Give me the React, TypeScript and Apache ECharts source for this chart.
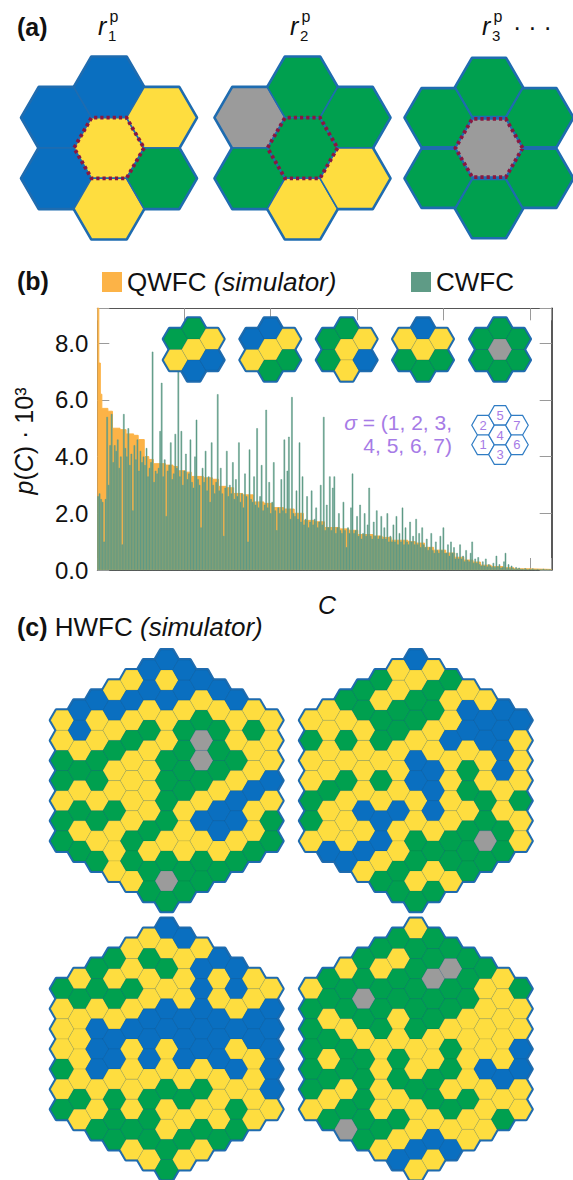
import React, { useEffect, useRef } from 'react';
import * as echarts from 'echarts';

const FONT = '"Liberation Sans", Arial, Helvetica, sans-serif';
const SQ3 = Math.sqrt(3);
const ORANGE = '#fcb347';
const GREEN_BAR = '#5f9b86';
const PURPLE = '#a67be6';
const OUTLINE = '#1f6cb0';

// cell colour codes: Y yellow, G green, B blue, X grey, W white
const CODES = ['Y', 'G', 'B', 'X', 'W'];
const CELL_COLORS = ['#fedd3f', '#00a04f', '#0a6fc0', '#9b9b9b', '#ffffff'];

// ---------- (a) patterns r1^p, r2^p, r3^p (columns left->right, cells top->bottom)
const PATTERN_R1 = ['BB', 'BYY', 'YG'];
const PATTERN_R2 = ['XG', 'GGY', 'GY'];
const PATTERN_R3 = ['GG', 'GXG', 'GG'];
const PATTERN_SUBS = ['1', '2', '3'];

// ---------- (b) data
// QWFC (simulator): sorted probability, step points [rank index, p*1e3]
const QWFC_STEPS: [number, number][] = [
  [0, 9.25], [1, 7.3], [2, 6.2], [3, 5.7], [7, 5.6], [10, 5.0], [15, 4.95], [19, 4.8], [24, 4.75],
  [27, 4.6], [31, 4.0], [34, 3.9], [37, 3.75], [45, 3.7], [50, 3.65], [53, 3.5], [58, 3.45], [62, 3.3],
  [70, 3.25], [76, 3.2], [80, 2.95], [85, 2.9], [90, 2.7], [96, 2.65], [103, 2.4], [110, 2.35],
  [116, 2.2], [123, 2.15], [130, 2.0], [136, 1.75], [143, 1.7], [150, 1.5], [160, 1.45], [166, 1.4],
  [172, 1.25], [182, 1.2], [188, 1.15], [194, 1.05], [205, 1.0], [210, 0.95], [216, 0.8], [222, 0.7],
  [230, 0.6], [236, 0.45], [242, 0.35], [248, 0.28], [253, 0.17], [260, 0.12], [268, 0.08],
  [275, 0.04], [285, 0.02], [300, 0.01],
];
// CWFC: p*1e3 for the same ranked configurations
const CWFC_VALUES: number[] = [
  2.6, 2.7, 2.5, 2.4, 1.0, 2.5, 5.4, 3.0, 4.4, 5.5,
  3.8, 4.4, 4.2, 4.6, 3.6, 4.0, 0.9, 5.5, 4.3, 4.0,
  5.0, 3.7, 4.1, 2.1, 4.4, 3.9, 4.6, 3.5, 4.2, 3.8,
  4.0, 3.7, 4.3, 3.3, 3.6, 3.8, 7.7, 3.1, 3.5, 3.4,
  3.6, 4.9, 6.6, 3.3, 3.9, 1.9, 3.5, 3.7, 4.5, 3.2,
  3.4, 4.8, 3.6, 8.4, 3.3, 4.9, 3.0, 3.5, 4.1, 3.2,
  3.4, 4.6, 3.1, 2.9, 4.0, 5.3, 3.2, 3.0, 1.5, 3.6,
  3.1, 4.2, 2.8, 3.3, 2.4, 4.5, 3.0, 2.7, 3.1, 6.2,
  2.8, 3.6, 2.7, 1.2, 2.9, 4.2, 2.6, 3.0, 2.7, 3.8,
  2.5, 3.2, 2.6, 4.5, 2.4, 2.7, 2.2, 3.4, 2.6, 1.0,
  4.25, 2.5, 2.4, 3.3, 2.3, 5.0, 2.2, 2.6, 3.7, 2.1,
  2.3, 5.65, 2.2, 3.1, 2.0, 2.4, 3.8, 2.1, 1.4, 2.2,
  2.0, 3.2, 2.1, 4.6, 2.0, 3.5, 4.7, 1.8, 6.1, 2.0,
  1.9, 2.8, 1.8, 4.5, 1.7, 3.3, 1.6, 1.8, 2.6, 1.5,
  1.7, 2.8, 1.6, 1.8, 2.2, 1.5, 1.7, 3.0, 1.6, 5.4,
  1.4, 2.3, 1.5, 3.3, 1.4, 2.9, 3.3, 1.3, 1.5, 2.0,
  1.4, 1.3, 2.4, 1.4, 0.8, 1.5, 1.3, 2.2, 3.4, 1.3,
  1.4, 1.9, 1.2, 2.3, 1.1, 1.3, 2.0, 1.2, 1.6, 2.9,
  1.2, 1.1, 1.7, 1.2, 2.1, 1.1, 1.2, 1.9, 1.1, 1.5,
  1.1, 2.0, 1.0, 1.2, 1.0, 1.6, 1.0, 1.9, 0.9, 1.3,
  1.0, 2.2, 0.9, 1.5, 1.0, 0.9, 1.7, 1.0, 1.2, 0.9,
  1.8, 0.9, 1.3, 0.8, 1.5, 0.9, 0.8, 1.1, 0.7, 0.8,
  1.3, 0.7, 0.6, 1.0, 0.7, 0.6, 1.2, 0.7, 1.5, 0.6,
  0.6, 0.9, 0.5, 1.0, 0.6, 0.8, 0.4, 0.6, 0.4, 0.9,
  0.4, 0.5, 0.3, 0.7, 0.35, 0.3, 0.6, 1.0, 0.25, 0.4,
  0.25, 0.45, 0.2, 0.15, 0.3, 0.15, 0.4, 0.12, 0.2, 0.15,
  0.1, 0.25, 0.1, 0.5, 0.12, 0.2, 0.08, 0.1, 0.3, 0.6,
  0.06, 0.2, 0.05, 0.15, 0.06, 0.03, 0.1, 0.04, 0.08, 0.03,
  0.04, 0.02, 0.06, 0.03, 0.02, 0.04, 0.02, 0.05, 0.02, 0.01,
  0.03, 0.02, 0.01, 0.02, 0.04, 0.01, 0.02, 0.01, 0.01, 0.02,
];
const Y_MAX = 9.23;
const Y_TICK_STEP = 2;
const X_TICK_MAX = 5.247; // top/bottom tick marks, 1 unit apart
const SERIES_NAMES = ['QWFC', 'CWFC'];

// inset patterns in (b)
const INSET_1 = ['GY', 'GYB', 'YB'];
const INSET_2 = ['BY', 'BYG', 'YG'];
const INSET_3 = ['GG', 'GYY', 'YB'];
const INSET_4 = ['YG', 'BYG', 'YG'];
const INSET_5 = ['GG', 'GXG', 'GG'];
const SIGMA_CELLS = ['WW', 'WWW', 'WW'];
const SIGMA_LABELS = [[2, 1], [5, 4, 3], [7, 6]];

// ---------- (c) HWFC (simulator) samples, 13 columns left->right, cells top->bottom
const HWFC_1 = [
  'YYGGYGG', 'BBYGYGYG', 'BYYGGYGYG', 'YBYGYYGYYY', 'YBYGYYYYGGY', 'BBYGYYYYGYGG',
  'BYBYYGGGGYGXG',
  'BBYGGGGYYYGG', 'BYGXXGYBYGG', 'BYGGGYBBYG', 'BYYGYBBYG', 'YGYYBYYG', 'YYYBYGG',
];
const HWFC_2 = [
  'YGYYGGY', 'YYYYGYYB', 'GYGYGYYYB', 'GGYYYYBYBY', 'GYGGYGYBBYG', 'YYGGYYYBYYGG',
  'BYGGYBBYYGGYG',
  'YGGYYBBBYGYG', 'GYYBYYYYGGY', 'YBBYGGYGGG', 'YBBYYGGXG', 'BBBBYYGG', 'BYYYGYY',
];
const HWFC_3 = [
  'GYYYGYG', 'YGYYYYGY', 'GGYBBBYYG', 'GYGYBBYGGG', 'YYGYBYYYYGY', 'YGYYBBBYGGGY',
  'BYGYBBYYGYYGG',
  'BYYYBBBYGYGY', 'YBBBBBYGYGY', 'BYYBBBYYYG', 'BBYBYBYGG', 'YYBBYYYY', 'YBBBBBY',
];
const HWFC_4 = [
  'YGGGGGY', 'GGYGYGYG', 'YGGYGGYGX', 'GGXGYGGGGG', 'GYGGGYYYYGY', 'GYGGYYGGYGYB',
  'YGGGGGYYGYYBY',
  'GGXGGYYGGYBY', 'GXGGYGGYGYB', 'GGGYYYYGYY', 'GYYYYBYYY', 'YYYYYBYG', 'GYYBBYY',
];

type Kind = 'a' | 'b' | 'c' | 'num';
const STYLES: Record<Kind, any> = {
  a: { outlineWidth: 3.6, innerColor: OUTLINE, innerWidth: 1.6, dotted: true },
  b: { outlineWidth: 4, innerColor: 'rgba(30,60,90,0.22)', innerWidth: 0.6 },
  c: { outlineWidth: 4, innerColor: 'rgba(30,60,90,0.16)', innerWidth: 0.6 },
  num: { outlineWidth: 0, innerColor: '#2f7cc4', innerWidth: 1.2, labels: true, labelSize: 13 },
};

const HEX_GROUPS: { cols: string[]; labels?: number[][]; cx: number; cy: number; R: number; kind: Kind }[] = [
  { cols: PATTERN_R1, cx: 109, cy: 148, R: 35, kind: 'a' },
  { cols: PATTERN_R2, cx: 302.5, cy: 148, R: 35, kind: 'a' },
  { cols: PATTERN_R3, cx: 492.5, cy: 148, R: 35, kind: 'a' },
  { cols: INSET_1, cx: 193.7, cy: 349.5, R: 12, kind: 'b' },
  { cols: INSET_2, cx: 270.3, cy: 349.5, R: 12, kind: 'b' },
  { cols: INSET_3, cx: 346.7, cy: 349.5, R: 12, kind: 'b' },
  { cols: INSET_4, cx: 423, cy: 349.5, R: 12, kind: 'b' },
  { cols: INSET_5, cx: 500, cy: 349.5, R: 12, kind: 'b' },
  { cols: SIGMA_CELLS, labels: SIGMA_LABELS, cx: 500, cy: 435, R: 11.3, kind: 'num' },
  { cols: HWFC_1, cx: 166.7, cy: 780.6, R: 11.6, kind: 'c' },
  { cols: HWFC_2, cx: 415.8, cy: 780.6, R: 11.6, kind: 'c' },
  { cols: HWFC_3, cx: 166.7, cy: 1049, R: 11.6, kind: 'c' },
  { cols: HWFC_4, cx: 415.8, cy: 1049, R: 11.6, kind: 'c' },
];

function hexData(cols: string[], labels?: number[][]) {
  const n = (cols.length - 1) / 2;
  const out: number[][] = [];
  cols.forEach((s, ci) => {
    const c = ci - n;
    for (let i = 0; i < s.length; i++) {
      const row = [1.5 * c, (-n + Math.abs(c) / 2 + i) * SQ3, CODES.indexOf(s[i])];
      if (labels) row.push(labels[ci][i]);
      out.push(row);
    }
  });
  return out;
}

function hexRenderer(mode: 'outline' | 'fill' | 'dotted', st: any) {
  return (_params: any, api: any) => {
    const p = api.coord([api.value(0), api.value(1)]);
    const r = api.size([1, 1])[0];
    const pts: number[][] = [];
    for (let k = 0; k < 6; k++) {
      const a = (Math.PI / 3) * k;
      pts.push([p[0] + r * Math.cos(a), p[1] + r * Math.sin(a)]);
    }
    if (mode === 'outline') {
      return { type: 'polygon', shape: { points: pts }, style: { fill: OUTLINE, stroke: OUTLINE, lineWidth: st.outlineWidth, lineJoin: 'round' } };
    }
    if (mode === 'dotted') {
      return { type: 'polygon', shape: { points: pts }, style: { fill: 'none', stroke: '#8a1740', lineWidth: 3.8, lineDash: [3.2, 3] } };
    }
    const code = api.value(2);
    const poly = { type: 'polygon', shape: { points: pts }, style: { fill: CELL_COLORS[code], stroke: st.innerColor, lineWidth: st.innerWidth } };
    if (st.labels) {
      return {
        type: 'group',
        children: [
          poly,
          { type: 'text', x: p[0], y: p[1], style: { text: String(api.value(3)), fill: PURPLE, fontSize: st.labelSize, fontFamily: FONT, align: 'center', verticalAlign: 'middle' } },
        ],
      };
    }
    return poly;
  };
}

function txt(x: number, y: number, text: string, style: any = {}, extra: any = {}) {
  return { type: 'text', x, y, silent: true, ...extra, style: { text, fontFamily: FONT, fill: '#111', fontSize: 25, verticalAlign: 'middle', ...style } };
}

function buildOption() {
  const grid: any[] = [{ left: 97.3, top: 308.3, width: 454.4, height: 261.7 }];
  const tickStyle = { show: true, inside: true, length: 12, lineStyle: { color: '#9a9a9a', width: 1 } };
  const xAxis: any[] = [
    { gridIndex: 0, type: 'value', min: 0, max: CWFC_VALUES.length, show: false },
    { gridIndex: 0, type: 'category', data: CWFC_VALUES.map((_, i) => String(i)), show: false },
    { gridIndex: 0, type: 'value', min: 0, max: X_TICK_MAX, interval: 1, position: 'bottom',
      axisLine: { show: true, onZero: false, lineStyle: { color: '#555', width: 1 } }, axisTick: tickStyle,
      axisLabel: { show: false }, splitLine: { show: false } },
    { gridIndex: 0, type: 'value', min: 0, max: X_TICK_MAX, interval: 1, position: 'top',
      axisLine: { show: true, onZero: false, lineStyle: { color: '#555', width: 1 } }, axisTick: tickStyle,
      axisLabel: { show: false }, splitLine: { show: false } },
  ];
  const yAxis: any[] = [
    { gridIndex: 0, type: 'value', min: 0, max: Y_MAX, interval: Y_TICK_STEP, position: 'left',
      axisLine: { show: true, onZero: false, lineStyle: { color: '#666', width: 1 } }, axisTick: tickStyle,
      axisLabel: { fontSize: 24, fontFamily: FONT, color: '#111', margin: 9,
        formatter: (v: number) => (Math.abs(v / Y_TICK_STEP - Math.round(v / Y_TICK_STEP)) < 1e-9 ? v.toFixed(1) : '') },
      splitLine: { show: false } },
    { gridIndex: 0, type: 'value', min: 0, max: Y_MAX, interval: Y_TICK_STEP, position: 'right',
      axisLine: { show: true, onZero: false, lineStyle: { color: '#222', width: 1.5 } }, axisTick: tickStyle,
      axisLabel: { show: false }, splitLine: { show: false } },
  ];
  const series: any[] = [
    { type: 'line', name: SERIES_NAMES[0], xAxisIndex: 0, yAxisIndex: 0, data: QWFC_STEPS, step: 'end',
      showSymbol: false, symbol: 'none', color: ORANGE, itemStyle: { color: ORANGE },
      lineStyle: { color: ORANGE, width: 1 }, areaStyle: { color: ORANGE, opacity: 1 }, z: 2, silent: true },
    { type: 'bar', name: SERIES_NAMES[1], xAxisIndex: 1, yAxisIndex: 0, data: CWFC_VALUES,
      barCategoryGap: '0%', barGap: '0%', color: GREEN_BAR,
      itemStyle: { color: GREEN_BAR, borderColor: GREEN_BAR, borderWidth: 0.5 }, z: 3, silent: true },
  ];

  HEX_GROUPS.forEach((g) => {
    const n = (g.cols.length - 1) / 2;
    const hx = 1.5 * n + 1;
    const hy = (n + 0.5) * SQ3;
    const gi = grid.length;
    grid.push({ left: g.cx - hx * g.R, top: g.cy - hy * g.R, width: 2 * hx * g.R, height: 2 * hy * g.R });
    const xi = xAxis.length;
    xAxis.push({ gridIndex: gi, type: 'value', min: -hx, max: hx, show: false });
    const yi = yAxis.length;
    yAxis.push({ gridIndex: gi, type: 'value', min: -hy, max: hy, inverse: true, show: false });
    const data = hexData(g.cols, g.labels);
    const st = STYLES[g.kind];
    const base = { type: 'custom', coordinateSystem: 'cartesian2d', xAxisIndex: xi, yAxisIndex: yi, encode: { x: 0, y: 1 }, silent: true, clip: false };
    if (st.outlineWidth) series.push({ ...base, data, renderItem: hexRenderer('outline', st), z: 5 });
    series.push({ ...base, data, renderItem: hexRenderer('fill', st), z: 6 });
    if (st.dotted) {
      series.push({ ...base, data: data.filter((d) => d[0] === 0 && Math.abs(d[1]) < 1e-6), renderItem: hexRenderer('dotted', st), z: 7 });
    }
  });

  const legendText = { fontSize: 26, fontFamily: FONT, color: '#111', rich: { i: { fontSize: 26, fontFamily: FONT, fontStyle: 'italic', color: '#111' } } };
  const legend = [
    { data: [SERIES_NAMES[0]], left: 97, top: 264, icon: 'rect', itemWidth: 20, itemHeight: 20, selectedMode: false,
      itemStyle: { borderWidth: 0 }, textStyle: legendText, formatter: () => 'QWFC {i|(simulator)}' },
    { data: [SERIES_NAMES[1]], left: 406, top: 264, icon: 'rect', itemWidth: 20, itemHeight: 20, selectedMode: false,
      itemStyle: { borderWidth: 0 }, textStyle: legendText },
  ];

  const rX = [98, 290, 482];
  const graphic: any[] = [
    txt(17, 27, '(a)', { fontWeight: 'bold' }),
    txt(17, 281, '(b)', { fontWeight: 'bold' }),
    txt(17, 627, '{b|(c)} HWFC {i|(simulator)}', {
      fontSize: 26,
      rich: { b: { fontWeight: 'bold', fontSize: 25, fontFamily: FONT, fill: '#111' }, i: { fontStyle: 'italic', fontSize: 26, fontFamily: FONT, fill: '#111' } },
    }),
    txt(24, 441, '{i|p}({i|C}) · 10³', {
      fontSize: 25, align: 'center',
      rich: { i: { fontStyle: 'italic', fontSize: 25, fontFamily: FONT, fill: '#111' } },
    }, { rotation: Math.PI / 2 }),
    txt(327, 605, 'C', { fontStyle: 'italic', align: 'center' }),
    txt(452, 422, '{i|σ} = (1, 2, 3,', { fontSize: 21, fill: PURPLE, align: 'right', rich: { i: { fontStyle: 'italic', fontSize: 21, fontFamily: FONT, fill: PURPLE } } }),
    txt(452, 445, '4, 5, 6, 7)', { fontSize: 21, fill: PURPLE, align: 'right' }),
    txt(513, 27, '· · ·', { fontSize: 25 }),
  ];
  PATTERN_SUBS.forEach((s, k) => {
    graphic.push(txt(rX[k], 26.3, 'r', { fontStyle: 'italic', fontSize: 25 }));
    graphic.push(txt(rX[k] + 11.5, 16, 'p', { fontSize: 16 }));
    graphic.push(txt(rX[k] + 10, 35, s, { fontSize: 15 }));
  });

  return { animation: false, backgroundColor: '#ffffff', grid, xAxis, yAxis, series, legend, graphic };
}

export default function App() {
  const ref = useRef<HTMLDivElement>(null);
  useEffect(() => {
    document.body.style.margin = '0';
    const chart = echarts.init(ref.current as HTMLDivElement, undefined, { renderer: 'svg' });
    chart.setOption(buildOption() as any);
    return () => chart.dispose();
  }, []);
  return <div ref={ref} style={{ width: 573, height: 1180 }} />;
}
